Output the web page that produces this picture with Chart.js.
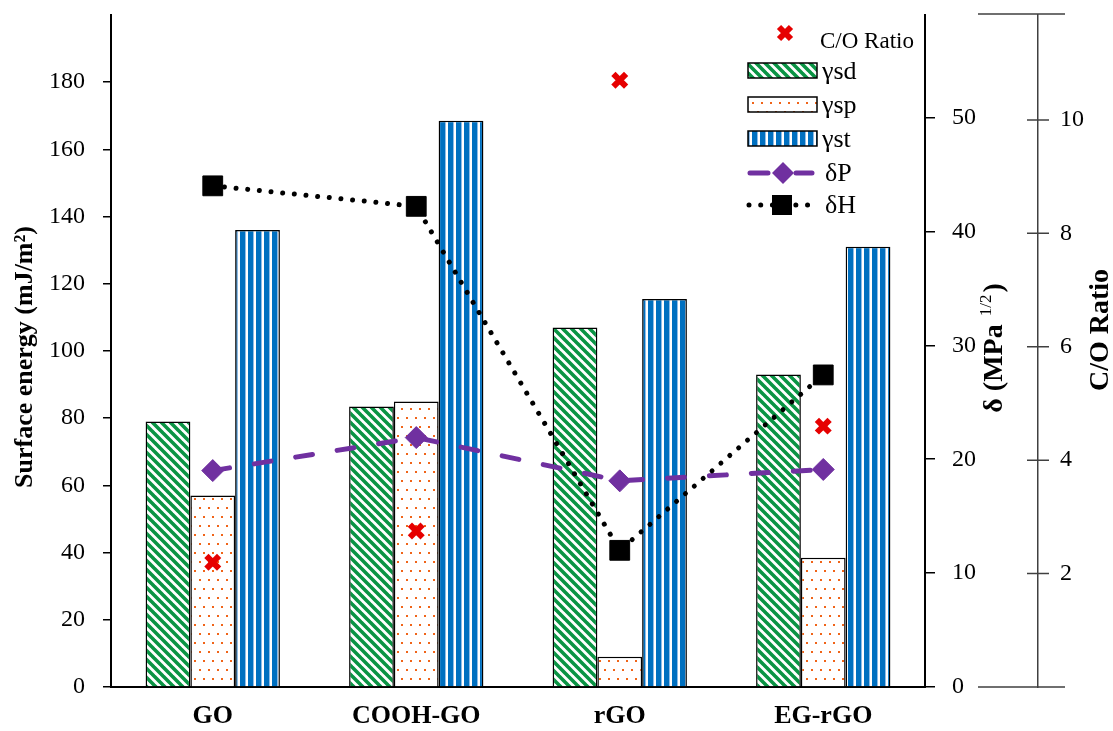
<!DOCTYPE html>
<html>
<head>
<meta charset="utf-8">
<script src="https://cdn.jsdelivr.net/npm/chart.js@4.4.1/dist/chart.umd.min.js"></script>
<style>
  body { margin: 0; background: #fff; }
  #wrap { width: 1113px; height: 731px; }
</style>
</head>
<body>
<div id="wrap"><canvas id="chart" width="1113" height="731"></canvas></div>
<script>
// data
const categories = ["GO", "COOH-GO", "rGO", "EG-rGO"];
const gammaSD = [79, 83.5, 107, 93];
const gammaSP = [57, 85, 9, 38.5];
const gammaST = [136, 168.5, 115.5, 131];
const deltaP = [19, 21.9, 18.1, 19.1];
const deltaH = [44, 42.2, 12, 27.4];
const coRatio = [2.2, 2.75, 10.7, 4.6];

const FONT = "'Liberation Serif', 'Times New Roman', serif";
const canvas = document.getElementById("chart");
const ctx = canvas.getContext("2d");

// hatch fills like the excel ones
function makePattern(w, h, draw) {
  const c = document.createElement("canvas");
  c.width = w; c.height = h;
  const g = c.getContext("2d");
  g.fillStyle = "#fff";
  g.fillRect(0, 0, w, h);
  draw(g);
  return ctx.createPattern(c, "repeat");
}
const patSD = makePattern(9, 9, g => {
  g.strokeStyle = "#0a9444";
  g.lineWidth = 3.6;
  g.beginPath();
  for (let k = -9; k <= 9; k += 9) { g.moveTo(k - 1, -1); g.lineTo(k + 10, 10); }
  g.stroke();
});
const patSP = makePattern(9, 18, g => {
  g.fillStyle = "#f06418";
  g.fillRect(1, 3, 2, 2);
  g.fillRect(5, 12, 2, 2);
});
const patST = makePattern(8, 1, g => {
  g.fillStyle = "#0070c0";
  g.fillRect(0, 0, 5, 1);
  g.fillStyle = "#8fbce6";
  g.fillRect(5, 0, 1, 1);
});

const tickFont = { family: FONT, size: 24 };

function noPadY(s, w) { s.width = w; s.paddingTop = 0; s.paddingBottom = 0; }

const extras = {
  id: "extras",
  afterDraw(chart) {
    const c = chart.ctx;
    const y2 = chart.scales.y2;
    c.save();
    // C/O axis: cross ticks and the end caps
    c.strokeStyle = "#404040";
    c.lineWidth = 1.5;
    c.beginPath();
    y2.ticks.forEach(t => {
      const py = y2.getPixelForValue(t.value);
      c.moveTo(y2.left - 11, py); c.lineTo(y2.left + 11, py);
    });
    c.moveTo(978, 14); c.lineTo(1065, 14);
    c.moveTo(978, y2.bottom); c.lineTo(1065, y2.bottom);
    c.stroke();

    // axis titles
    c.fillStyle = "#000";
    c.textBaseline = "middle";
    c.textAlign = "center";
    c.save();
    c.translate(25, 357); c.rotate(-Math.PI / 2);
    c.font = "bold 26px " + FONT;
    c.fillText("Surface energy (mJ/m²)", 0, 0);
    c.restore();

    c.save();
    c.translate(995, 348); c.rotate(-Math.PI / 2);
    c.textAlign = "left";
    const a = "δ (MPa ", sup = "1/2", b = ")";
    c.font = "bold 28px " + FONT;
    const wa = c.measureText(a).width, wb = c.measureText(b).width;
    c.font = "17px " + FONT;
    const ws = c.measureText(sup).width;
    let x0 = -(wa + ws + wb + 3) / 2;
    c.font = "bold 28px " + FONT;
    c.fillText(a, x0, 0);
    c.font = "17px " + FONT;
    c.fillText(sup, x0 + wa + 1, -8);
    c.font = "bold 28px " + FONT;
    c.fillText(b, x0 + wa + ws + 3, 0);
    c.restore();

    c.save();
    c.translate(1101, 330); c.rotate(-Math.PI / 2);
    c.font = "bold 28px " + FONT;
    c.fillText("C/O Ratio", 0, 0);
    c.restore();

    // legend
    const ds = chart.data.datasets;
    c.textAlign = "left";
    // C/O Ratio
    c.strokeStyle = ds[5].pointBorderColor;
    c.lineWidth = 6;
    c.beginPath();
    c.moveTo(779, 27); c.lineTo(791, 39);
    c.moveTo(791, 27); c.lineTo(779, 39);
    c.stroke();
    c.font = "23px " + FONT;
    c.fillText(ds[5].label, 820, 42);
    // bars
    c.font = "26px " + FONT;
    [0, 1, 2].forEach((i, k) => {
      const top = 63 + k * 34;
      c.fillStyle = ds[i].backgroundColor;
      c.fillRect(748, top, 69, 15);
      c.strokeStyle = "#000";
      c.lineWidth = 1.5;
      c.strokeRect(748, top, 69, 15);
      c.fillStyle = "#000";
      c.fillText(ds[i].label, 822, top + 9);
    });
    // dP
    c.strokeStyle = ds[3].borderColor;
    c.lineWidth = 5;
    c.lineCap = "round";
    c.beginPath();
    c.moveTo(750, 173); c.lineTo(768, 173);
    c.moveTo(796, 173); c.lineTo(812, 173);
    c.stroke();
    c.fillStyle = ds[3].borderColor;
    c.beginPath();
    c.moveTo(772, 173); c.lineTo(783, 162); c.lineTo(794, 173); c.lineTo(783, 184);
    c.closePath(); c.fill();
    c.fillStyle = "#000";
    c.fillText(ds[3].label, 825, 174);
    // dH
    c.setLineDash([0.01, 11.7]);
    c.strokeStyle = "#000";
    c.beginPath();
    c.moveTo(749, 205); c.lineTo(812, 205);
    c.stroke();
    c.setLineDash([]);
    c.fillRect(772, 195, 20, 20);
    c.fillText(ds[4].label, 825, 206);
    c.restore();
  }
};

new Chart(ctx, {
  data: {
    labels: categories,
    datasets: [
      { type: "bar", label: "γsd", data: gammaSD, backgroundColor: patSD, borderColor: "#000", borderWidth: 1.5,
        yAxisID: "y", order: 4, categoryPercentage: 0.66, barPercentage: 1 },
      { type: "bar", label: "γsp", data: gammaSP, backgroundColor: patSP, borderColor: "#000", borderWidth: 1.5,
        yAxisID: "y", order: 4, categoryPercentage: 0.66, barPercentage: 1 },
      { type: "bar", label: "γst", data: gammaST, backgroundColor: patST, borderColor: "#000", borderWidth: 1.5,
        yAxisID: "y", order: 4, categoryPercentage: 0.66, barPercentage: 1 },
      { type: "line", label: "δP", data: deltaP, yAxisID: "y1", order: 2,
        borderColor: "#7030a0", borderWidth: 5, borderDash: [17, 25], borderCapStyle: "round", tension: 0,
        pointStyle: "rectRot", pointRadius: 11, pointBackgroundColor: "#7030a0", pointBorderColor: "#7030a0", pointBorderWidth: 1 },
      { type: "line", label: "δH", data: deltaH, yAxisID: "y1", order: 1,
        borderColor: "#000", borderWidth: 5, borderDash: [0.01, 11.7], borderCapStyle: "round", tension: 0,
        pointStyle: "rect", pointRadius: 14, pointBackgroundColor: "#000", pointBorderColor: "#000", pointBorderWidth: 1 },
      { type: "line", label: "C/O Ratio", data: coRatio, yAxisID: "y2", order: 0, showLine: false,
        pointStyle: "crossRot", pointRadius: 9, pointBorderWidth: 6, pointBorderColor: "#e60000", pointBackgroundColor: "#e60000" }
    ]
  },
  options: {
    responsive: false,
    animation: false,
    layout: { padding: { top: 12, left: 0, right: 0, bottom: 0 } },
    plugins: { legend: { display: false }, tooltip: { enabled: false } },
    scales: {
      x: {
        type: "category",
        offset: true,
        grid: { display: false, drawTicks: false },
        border: { color: "#000", width: 2 },
        ticks: { font: { family: FONT, size: 26, weight: "bold" }, color: "#000", padding: 14, maxRotation: 0 },
        afterFit(s) { s.height = 44; s.paddingLeft = 0; s.paddingRight = 0; }
      },
      y: {
        position: "left",
        min: 0, max: 200,
        ticks: { stepSize: 20, font: tickFont, color: "#000", padding: 18 },
        grid: { drawOnChartArea: false, tickLength: 8, color: "#000", lineWidth: 1.5 },
        border: { color: "#000", width: 2 },
        afterBuildTicks(s) { s.ticks = s.ticks.filter(t => t.value <= 180); },
        afterFit(s) { noPadY(s, 111); }
      },
      y1: {
        position: "right",
        weight: 0,
        min: 0, max: 59,
        ticks: { stepSize: 10, font: tickFont, color: "#000", padding: 17 },
        grid: { drawOnChartArea: false, tickLength: 10, color: "#000", lineWidth: 1.5 },
        border: { color: "#000", width: 2 },
        afterBuildTicks(s) { s.ticks = s.ticks.filter(t => t.value <= 50); },
        afterFit(s) { noPadY(s, 113); }
      },
      y2: {
        position: "right",
        weight: 1,
        min: 0, max: 11.85,
        ticks: { stepSize: 2, font: tickFont, color: "#000", padding: 22 },
        grid: { drawOnChartArea: false, drawTicks: false },
        border: { color: "#404040", width: 1.5 },
        afterBuildTicks(s) { s.ticks = s.ticks.filter(t => t.value >= 2 && t.value <= 10); },
        afterFit(s) { noPadY(s, 75); }
      }
    }
  },
  plugins: [extras]
});
</script>
</body>
</html>
